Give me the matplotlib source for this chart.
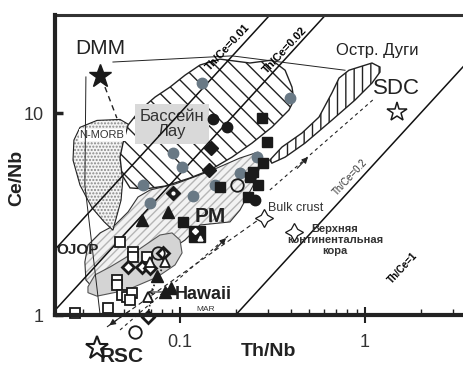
import numpy as np
import matplotlib.pyplot as plt
from matplotlib.patches import Polygon
from matplotlib.ticker import LogLocator, NullFormatter, NullLocator

plt.rcParams['font.family'] = ['Liberation Sans Narrow', 'Liberation Sans', 'DejaVu Sans']

# --- data: (Th/Nb, Ce/Nb) ---
black_sq_x = [0.277, 0.295, 0.281, 0.248, 0.264, 0.164, 0.233, 0.104, 0.239]
black_sq_y = [9.44, 7.18, 5.65, 5.10, 4.40, 4.30, 3.84, 2.89, 4.82]

black_ci_x = [0.151, 0.180, 0.254]
black_ci_y = [9.34, 8.52, 3.71]

black_di_x = [0.147, 0.1435, 0.0917]
black_di_y = [6.71, 5.22, 4.02]

gray_ci_x = [0.1315, 0.394, 0.0917, 0.1026, 0.261, 0.211, 0.155, 0.1175, 0.0631, 0.0689]
gray_ci_y = [14.08, 11.87, 6.34, 5.40, 6.05, 5.05, 4.40, 3.88, 4.40, 3.58]

black_tri_x = [0.0861, 0.0624, 0.0752, 0.083, 0.0894]
black_tri_y = [3.24, 2.95, 1.56, 1.30, 1.36]

open_sq_x = [0.0474, 0.0557, 0.0557, 0.0664, 0.0456, 0.0456, 0.0486, 0.0517, 0.0551, 0.0537, 0.0408, 0.0271]
open_sq_y = [2.30, 2.05, 1.94, 1.94, 1.49, 1.41, 1.26, 1.23, 1.29, 1.19, 1.08, 1.02]

open_di_x = [0.0524, 0.0624, 0.0689, 0.081, 0.0672]
open_di_y = [1.73, 1.73, 1.71, 2.03, 0.98]

open_tri_x = [0.083, 0.0672, 0.0689]
open_tri_y = [1.83, 1.23, 1.84]

open_ci_x = [0.203, 0.0571, 0.0764]
open_ci_y = [4.40, 0.82, 2.03]

pm_x, pm_y = 0.1236, 2.52

th_ce_lines = [0.01, 0.02, 0.2]

# reservoirs
dmm = (0.037, 15.25)
sdc = (1.489, 10.12)
rsc = (0.0356, 0.69)
bulk_crust = (0.284, 3.02)
upper_crust = (0.413, 2.58)

# fields
nmorb_x = [0.0288, 0.0356, 0.0474, 0.0537, 0.0511, 0.0492, 0.048, 0.0434, 0.0388, 0.0334, 0.0288, 0.0264, 0.0267]
nmorb_y = [8.5, 9.2, 9.3, 8.7, 6.6, 4.8, 3.7, 2.63, 2.9, 3.4, 4.4, 5.85, 7.35]

lau_x = [0.0492, 0.0524, 0.0608, 0.0733, 0.0883, 0.1064, 0.1283, 0.1644, 0.2388, 0.314, 0.370, 0.403,
         0.413, 0.388, 0.314, 0.245, 0.191, 0.145, 0.1133, 0.083, 0.0647, 0.0537, 0.0486, 0.0474]
lau_y = [7.10, 8.72, 10.35, 12.0, 13.45, 15.4, 17.3, 18.5, 17.7, 18.3, 16.3, 13.45,
         11.6, 10.35, 8.52, 7.10, 6.05, 5.22, 4.77, 4.35, 4.21, 4.26, 4.93, 6.05]

arc_x = [1.205, 1.091, 0.819, 0.724, 0.663, 0.564, 0.456, 0.356, 0.306, 0.314, 0.370, 0.474, 0.663, 0.883, 1.091, 1.205]
arc_y = [16.9, 17.7, 16.3, 14.9, 12.6, 9.55, 7.96, 6.79, 5.85, 5.65, 6.05, 7.10, 9.23, 11.6, 14.08, 15.96]

pmf_x = [0.0306, 0.0318, 0.037, 0.0445, 0.0524, 0.0593, 0.0689, 0.094, 0.1452, 0.211, 0.2642, 0.2774,
         0.2543, 0.211, 0.1862, 0.1283, 0.1064, 0.0883, 0.0689, 0.0474, 0.0347, 0.031]
pmf_y = [1.83, 2.22, 2.55, 2.79, 3.24, 3.84, 4.16, 4.45, 5.16, 5.99, 6.41, 5.85,
         4.55, 3.31, 2.89, 2.79, 2.35, 2.10, 1.83, 1.49, 1.33, 1.49]

ell_x = [0.0318, 0.0347, 0.0419, 0.0571, 0.078, 0.0906, 0.1, 0.1026, 0.094, 0.0752, 0.0517, 0.0356, 0.0318]
ell_y = [1.38, 1.58, 1.73, 2.05, 2.49, 2.55, 2.35, 2.03, 1.77, 1.54, 1.33, 1.24, 1.29]

fig = plt.figure(figsize=(4.64, 3.65), dpi=100)
ax = fig.add_axes([55 / 464, 50 / 365, 409 / 464, 300 / 365])
ax.set_xscale('log')
ax.set_yscale('log')
ax.set_xlim(0.0211, 3.43)
ax.set_ylim(1, 30.6)

# fields
ax.add_patch(Polygon(np.column_stack([pmf_x, pmf_y]), closed=True, fc='#f2f2f2', ec='#b5b5b5',
                     hatch='////', lw=0, zorder=1))
ax.add_patch(Polygon(np.column_stack([pmf_x, pmf_y]), closed=True, fill=False, ec='#333333', lw=0.8, zorder=1.1))
ax.add_patch(Polygon(np.column_stack([ell_x, ell_y]), closed=True, fc='#d4d4d4', ec='#555555', lw=0.8, zorder=1.2))
ax.add_patch(Polygon(np.column_stack([nmorb_x, nmorb_y]), closed=True, fc='#f4f4f4', ec='#888888',
                     hatch='.....', lw=0, zorder=1.3))
ax.add_patch(Polygon(np.column_stack([nmorb_x, nmorb_y]), closed=True, fill=False, ec='#222222', lw=0.8, zorder=1.4))
ax.add_patch(Polygon(np.column_stack([lau_x, lau_y]), closed=True, fc='white', ec='#222222',
                     hatch='\\\\', lw=1.0, zorder=1.5))
ax.add_patch(Polygon(np.column_stack([arc_x, arc_y]), closed=True, fc='white', ec='#222222',
                     hatch='||', lw=1.0, zorder=1.5))

# constant Th/Ce lines
xx = np.array([0.0211, 3.43])
for r in th_ce_lines:
    ax.plot(xx, xx / r, color='#111111', lw=1.1, zorder=2)

# mixing / trend lines
ax.plot([0.031, 0.0306, 0.037], [15.1, 4.40, 1.0], color='#222222', lw=0.7, zorder=2)
ax.plot([0.0393, 0.0456], [13.45, 9.44], color='#222222', lw=1.0, ls=(0, (4, 3)), zorder=2)
ax.plot([0.0434, 0.191, 0.78], [17.9, 19.2, 16.3], color='#222222', lw=0.7, zorder=2)
ax.plot([0.0403, 0.264], [0.873, 2.95], color='#222222', lw=0.8, ls=(0, (4, 3)), zorder=2, clip_on=False)
ax.annotate('', xy=(0.0403, 0.873), xytext=(0.055, 1.07), annotation_clip=False,
            arrowprops=dict(arrowstyle='-|>', color='#222222', lw=0.8, mutation_scale=9))
ax.plot([0.0474, 0.1817], [0.843, 2.46], color='#222222', lw=0.8, ls=(0, (3, 3)), zorder=2, clip_on=False)
ax.annotate('', xy=(0.1817, 2.46), xytext=(0.15, 2.05),
            arrowprops=dict(arrowstyle='-|>', color='#222222', lw=0.8, mutation_scale=9))
ax.plot([0.306, 1.133], [4.16, 11.87], color='#222222', lw=0.8, ls=(0, (3, 3)), zorder=2)
ax.annotate('', xy=(0.504, 6.20), xytext=(0.42, 5.2),
            arrowprops=dict(arrowstyle='-|>', color='#222222', lw=0.8, mutation_scale=9))
ax.annotate('', xy=(0.0647, 1.30), xytext=(0.0906, 1.30),
            arrowprops=dict(arrowstyle='->', color='#222222', lw=0.8, mutation_scale=8))
ax.plot([0.083, 0.071, 0.0672], [1.83, 1.35, 1.0], color='#222222', lw=1.2, ls=(0, (1, 1.5)), zorder=2)

# data points
ax.plot(gray_ci_x, gray_ci_y, 'o', ms=7.5, mfc='#697985', mec='#697985', zorder=4)
ax.plot(black_sq_x, black_sq_y, 's', ms=7.5, mfc='#1a1a1a', mec='#1a1a1a', zorder=5)
ax.plot(black_ci_x, black_ci_y, 'o', ms=7.5, mfc='#1a1a1a', mec='#1a1a1a', zorder=5)
ax.plot(black_di_x, black_di_y, 'D', ms=7, mfc='#1a1a1a', mec='#1a1a1a', zorder=5)
ax.plot([black_di_x[2]], [black_di_y[2]], 'o', ms=2, mfc='white', mec='white', zorder=5.1)
ax.plot(black_tri_x, black_tri_y, '^', ms=8.5, mfc='#1a1a1a', mec='#1a1a1a', zorder=5)
ax.plot(open_sq_x, open_sq_y, 's', ms=7, mfc='white', mec='#1a1a1a', mew=1.3, zorder=5, clip_on=False)
ax.plot(open_di_x, open_di_y, 'D', ms=6.5, mfc='white', mec='#1a1a1a', mew=2, zorder=5, clip_on=False)
ax.plot(open_tri_x, open_tri_y, '^', ms=7, mfc='white', mec='#1a1a1a', mew=1.3, zorder=5)
ax.plot(open_ci_x, open_ci_y, 'o', ms=9, mfc='none', mec='#1a1a1a', mew=1.3, zorder=5, clip_on=False)
ax.plot([pm_x], [pm_y], 's', ms=12, mfc='#1a1a1a', mec='#1a1a1a', zorder=5)
ax.plot([pm_x * 0.97], [pm_y * 1.03], 'D', ms=3, mfc='white', mec='white', zorder=5.1)
ax.plot([pm_x * 1.04], [pm_y * 0.96], '^', ms=3.5, mfc='white', mec='white', zorder=5.1)

# reservoirs
ax.plot(*dmm, '*', ms=17, mfc='#1a1a1a', mec='#1a1a1a', zorder=6)
ax.plot(*sdc, '*', ms=15, mfc='white', mec='#1a1a1a', mew=1.1, zorder=6)
ax.plot(*rsc, '*', ms=17, mfc='white', mec='#1a1a1a', mew=1.5, zorder=6, clip_on=False)
for p in (bulk_crust, upper_crust):
    ax.plot(*p, marker=(4, 1, 0), ms=13, mfc='white', mec='#1a1a1a', mew=0.9, zorder=6)

# labels
ax.text(dmm[0], 21.0, 'DMM', fontsize=15, ha='center', va='center', color='#222222')
ax.text(1.489, 13.3, 'SDC', fontsize=16, ha='center', va='center', color='#222222')
ax.text(0.0486, 0.62, 'RSC', fontsize=15, fontweight='bold', ha='center', va='center', color='#222222')
ax.text(0.299, 3.39, 'Bulk crust', fontsize=9, ha='left', va='center', color='#333333')
ax.text(0.689, 2.35, 'Верхняя\nконтинентальная\nкора', fontsize=8, fontweight='bold', ha='center',
        va='center', color='#333333', linespacing=1.1)
ax.text(1.161, 20.5, 'Остр. Дуги', fontsize=12, ha='center', va='center', color='#222222')
ax.text(0.0281, 2.10, 'OJOP', fontsize=11, fontweight='bold', ha='center', va='center', color='#222222')
ax.text(0.145, 3.06, 'PM', fontsize=15, fontweight='bold', ha='center', va='center', color='#222222', zorder=7)
ax.text(0.133, 1.26, 'Hawaii', fontsize=13, fontweight='bold', ha='center', va='center', color='#222222', zorder=7)
ax.text(0.122, 1.06, 'MAR', fontsize=6, ha='left', va='center', color='#333333')
ax.text(0.0379, 7.78, 'N-MORB', fontsize=8, ha='center', va='center', color='#333333', zorder=1.9,
        bbox=dict(boxstyle='square,pad=0.1', fc='white', ec='none'))
ax.text(0.0906, 8.82, 'Бассейн\nЛау', fontsize=12, ha='center', va='center', color='#333333', zorder=1.9,
        linespacing=1.0, bbox=dict(boxstyle='square,pad=0.3', fc='#d9d9d9', ec='none'))
ax.text(0.1817, 21.2, 'Th/Ce=0.01', fontsize=8, fontweight='bold', rotation=47, ha='center', va='center')
ax.text(0.37, 20.5, 'Th/Ce=0.02', fontsize=8, fontweight='bold', rotation=47, ha='center', va='center')
ax.text(0.83, 4.82, 'Th/Ce=0.2', fontsize=7, rotation=47, ha='center', va='center', color='#333333')
ax.text(1.604, 1.71, 'Th/Ce=1', fontsize=7, fontweight='bold', rotation=47, ha='center', va='center')

# axes styling
ax.spines['right'].set_visible(False)
ax.spines['left'].set_linewidth(3)
ax.spines['bottom'].set_linewidth(3)
ax.spines['top'].set_linewidth(2.2)
ax.spines['top'].set_color('#333333')
for s in ('left', 'bottom'):
    ax.spines[s].set_color('#222222')
    ax.spines[s].set_zorder(8)

ax.set_xticks([0.1, 1])
ax.set_xticklabels(['0.1', '1'])
ax.xaxis.set_minor_locator(LogLocator(base=10, subs=np.arange(2, 10)))
ax.xaxis.set_minor_formatter(NullFormatter())
ax.set_yticks([1, 10])
ax.set_yticklabels(['1', '10'])
ax.yaxis.set_minor_locator(NullLocator())
ax.tick_params(axis='x', which='major', direction='inout', length=12, width=1.5, labelsize=13,
               pad=8, colors='#222222', labelcolor='#333333')
ax.tick_params(axis='x', which='minor', direction='in', length=4, width=1, colors='#222222')
ax.tick_params(axis='y', which='major', direction='in', length=6, width=2.5, labelsize=13,
               pad=8, colors='#222222', labelcolor='#333333')

ax.set_xlabel('Th/Nb', fontsize=14, fontweight='bold', color='#222222')
ax.set_ylabel('Ce/Nb', fontsize=14, fontweight='bold', color='#222222')
ax.xaxis.set_label_coords(0.523, -0.093)
ax.yaxis.set_label_coords(-0.073, 0.457)

fig.savefig('out.png', dpi=100)
